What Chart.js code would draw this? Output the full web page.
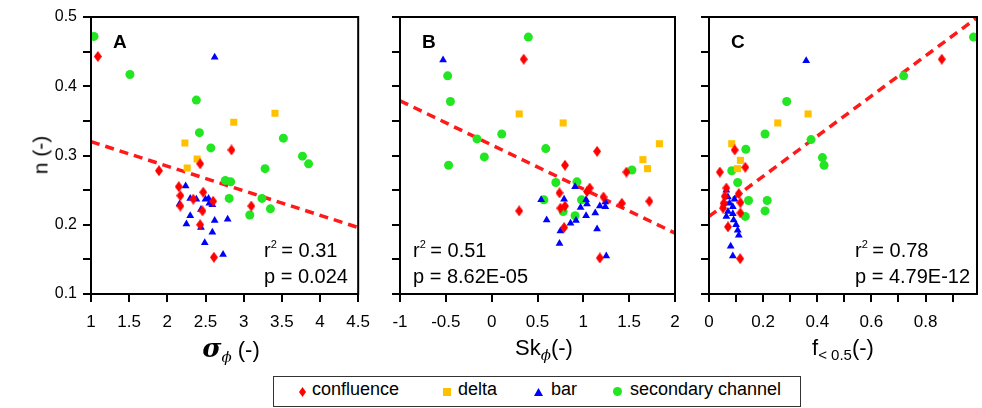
<!DOCTYPE html>
<html>
<head>
<meta charset="utf-8">
<script src="https://cdn.jsdelivr.net/npm/chart.js@4.4.1/dist/chart.umd.min.js"></script>
<style>
body{margin:0;background:#fff;width:982px;height:408px;position:relative;overflow:hidden;font-family:"Liberation Sans",Arial,sans-serif;color:#000;}
canvas{position:absolute;top:0;}
.ttl{position:absolute;top:337px;font-size:22px;line-height:22px;white-space:nowrap;transform:translateX(-50%);}
.ttl sub{font-size:15px;vertical-align:-5px;line-height:0;}
.gk{font-family:"DejaVu Serif","Liberation Serif",serif;font-style:italic;}
.ylab{position:absolute;left:40px;top:155px;font-size:21px;line-height:21px;white-space:nowrap;transform:translate(-50%,-50%) rotate(-90deg);}
#legend{position:absolute;left:273px;top:376px;width:528px;height:31px;border:1px solid #333;box-sizing:border-box;font-size:18px;}
#legend span{position:absolute;top:2px;white-space:nowrap;}
.mk{position:absolute;}
</style>
</head>
<body>
<canvas id="cA" width="380" height="340" style="left:0"></canvas>
<canvas id="cB" width="310" height="340" style="left:380px"></canvas>
<canvas id="cC" width="292" height="340" style="left:690px"></canvas>

<div class="ylab">n (-)</div>
<div class="ttl" style="left:231px"><b class="gk" style="font-size:26px">σ</b><sub class="gk">ϕ</sub> (-)</div>
<div class="ttl" style="left:544px">Sk<sub class="gk">ϕ</sub>(-)</div>
<div class="ttl" style="left:843px">f<sub>&lt; 0.5</sub>(-)</div>

<div id="legend">
  <canvas class="mk" id="mk0" width="8" height="10" style="left:25px;top:10px"></canvas><span style="left:38px">confluence</span>
  <canvas class="mk" id="mk1" width="8" height="8" style="left:169px;top:11px"></canvas><span style="left:184px">delta</span>
  <canvas class="mk" id="mk2" width="9" height="8" style="left:260px;top:11px"></canvas><span style="left:277px">bar</span>
  <canvas class="mk" id="mk3" width="9" height="9" style="left:339px;top:10px"></canvas><span style="left:356px">secondary channel</span>
</div>

<script>
// categories and colours
var categories = ['confluence', 'delta', 'bar', 'secondary channel'];
var colors = ['#ff0000', '#ffc000', '#0000ff', '#22e622'];

// panel A: sigma_phi vs n   [x, n]
var sigmaConfluence = [[1.09,0.443],[2.84,0.308],[2.43,0.288],[1.89,0.278],[2.15,0.255],[2.17,0.242],[2.17,0.227],[2.47,0.247],[2.34,0.237],[2.60,0.234],[2.46,0.220],[3.10,0.227],[2.43,0.200],[2.61,0.153]];
var sigmaDelta = [[3.41,0.361],[2.87,0.348],[2.23,0.318],[2.39,0.295],[2.26,0.282]];
var sigmaBar = [[2.62,0.442],[2.24,0.256],[2.30,0.238],[2.38,0.237],[2.50,0.237],[2.54,0.238],[2.55,0.231],[2.59,0.229],[2.16,0.230],[2.44,0.222],[2.30,0.213],[2.62,0.206],[2.79,0.208],[2.25,0.201],[2.44,0.196],[2.59,0.189],[2.49,0.174],[2.73,0.157]];
var sigmaSecondary = [[1.04,0.472],[1.51,0.417],[2.38,0.380],[2.42,0.333],[2.57,0.311],[3.52,0.325],[3.77,0.299],[3.85,0.288],[3.28,0.281],[2.76,0.264],[2.83,0.262],[2.81,0.238],[3.24,0.238],[3.35,0.223],[3.08,0.214]];
var sigmaFit = [[1,0.320],[4.5,0.196]];

// panel B: Sk_phi vs n
var skConfluence = [[0.35,0.439],[1.15,0.306],[0.80,0.286],[1.47,0.276],[1.07,0.253],[1.04,0.248],[0.74,0.246],[1.22,0.240],[1.42,0.231],[1.72,0.234],[0.80,0.227],[0.75,0.224],[0.30,0.220],[0.79,0.196],[1.18,0.152]];
var skDelta = [[0.30,0.360],[0.78,0.347],[1.83,0.317],[1.65,0.294],[1.70,0.281]];
var skBar = [[-0.53,0.438],[0.91,0.255],[0.54,0.236],[0.79,0.237],[1.03,0.236],[1.04,0.230],[0.97,0.225],[1.18,0.227],[1.24,0.233],[1.24,0.226],[1.13,0.217],[1.03,0.213],[0.60,0.207],[0.92,0.206],[0.86,0.202],[0.75,0.191],[1.15,0.194],[0.74,0.173],[1.25,0.155]];
var skSecondary = [[0.40,0.471],[-0.48,0.415],[-0.45,0.378],[-0.16,0.324],[0.11,0.331],[-0.08,0.298],[-0.47,0.286],[0.59,0.310],[1.53,0.279],[0.70,0.261],[0.93,0.262],[0.57,0.236],[0.98,0.236],[0.78,0.219],[0.91,0.213]];
var skFit = [[-1,0.379],[2,0.188]];

// panel C: f<0.5 vs n
var fConfluence = [[0.86,0.439],[0.095,0.308],[0.134,0.283],[0.040,0.276],[0.064,0.253],[0.058,0.241],[0.054,0.231],[0.052,0.224],[0.110,0.245],[0.116,0.232],[0.116,0.217],[0.070,0.197],[0.115,0.151]];
var fDelta = [[0.366,0.360],[0.254,0.347],[0.084,0.317],[0.116,0.293],[0.105,0.281]];
var fBar = [[0.359,0.437],[0.064,0.250],[0.070,0.240],[0.094,0.237],[0.076,0.231],[0.088,0.226],[0.070,0.219],[0.088,0.216],[0.064,0.212],[0.091,0.207],[0.100,0.200],[0.106,0.192],[0.110,0.185],[0.080,0.169],[0.088,0.155]];
var fSecondary = [[0.977,0.471],[0.719,0.415],[0.287,0.378],[0.207,0.331],[0.377,0.323],[0.136,0.309],[0.419,0.297],[0.425,0.286],[0.084,0.278],[0.106,0.261],[0.146,0.235],[0.215,0.235],[0.207,0.220],[0.134,0.212]];
var fFit = [[0,0.212],[0.99,0.499]];

// stats text
var statsA = ['0.31', '0.024'];
var statsB = ['0.51', '8.62E-05'];
var statsC = ['0.78', '4.79E-12'];

var FONT = '"Liberation Sans", Arial, sans-serif';

function diamond(w, h, color) {
    var c = document.createElement('canvas');
    c.width = w; c.height = h;
    var g = c.getContext('2d');
    g.fillStyle = color;
    g.beginPath();
    g.moveTo(w / 2, 0); g.lineTo(w, h / 2); g.lineTo(w / 2, h); g.lineTo(0, h / 2);
    g.closePath();
    g.fill();
    return c;
}

function pts(arr) {
    return arr.map(function (p) { return {x: p[0], y: p[1]}; });
}

var diamondImg = diamond(8, 11, colors[0]);

function datasets(conf, delta, bar, sec, fit) {
    return [
        {label: categories[0], data: pts(conf), pointStyle: diamondImg, pointRadius: 5, backgroundColor: colors[0], borderWidth: 0},
        {label: categories[1], data: pts(delta), pointStyle: 'rect', pointRadius: 5, backgroundColor: colors[1], borderColor: colors[1], borderWidth: 0},
        {label: categories[2], data: pts(bar), pointStyle: 'triangle', pointRadius: 4.5, backgroundColor: colors[2], borderColor: colors[2], borderWidth: 0},
        {label: categories[3], data: pts(sec), pointStyle: 'circle', pointRadius: 4.5, backgroundColor: colors[3], borderColor: colors[3], borderWidth: 0},
        {label: 'fit', data: pts(fit), showLine: true, pointRadius: 0, borderColor: '#ff1a1a', borderWidth: 3.5, borderDash: [9, 6], fill: false}
    ];
}

var framePlugin = {
    id: 'frame',
    afterDraw: function (chart, args, o) {
        var a = chart.chartArea, ctx = chart.ctx;
        ctx.save();
        ctx.strokeStyle = '#000';
        ctx.lineWidth = 2;
        ctx.strokeRect(a.left, a.top, a.right - a.left, a.bottom - a.top);
        ctx.fillStyle = '#000';
        ctx.textBaseline = 'alphabetic';
        ctx.font = 'bold 19px ' + FONT;
        ctx.fillText(o.letter, a.left + 22, 48);
        var x = a.left + o.statsX;
        ctx.font = '20px ' + FONT;
        ctx.fillText('r', x, 257);
        var w = ctx.measureText('r').width;
        ctx.font = '11px ' + FONT;
        ctx.fillText('2', x + w, 248);
        var w2 = ctx.measureText('2').width;
        ctx.font = '20px ' + FONT;
        ctx.fillText(' = ' + o.stats[0], x + w + w2 - 1, 257);
        ctx.fillText('p = ' + o.stats[1], x, 283);
        ctx.restore();
    }
};

function makeChart(id, sets, xMin, xMax, xStep, xCb, yCb, yWidth, padRight, letter, stats, statsX) {
    return new Chart(document.getElementById(id), {
        type: 'scatter',
        data: {datasets: sets},
        options: {
            responsive: false,
            animation: false,
            devicePixelRatio: 1,
            events: [],
            layout: {padding: {top: 17, right: padRight, left: 0, bottom: 0}},
            plugins: {
                legend: {display: false},
                tooltip: {enabled: false},
                frame: {letter: letter, stats: stats, statsX: statsX}
            },
            scales: {
                x: {
                    type: 'linear', min: xMin, max: xMax,
                    afterFit: function (s) { s.height = 46; },
                    grid: {drawOnChartArea: false, drawTicks: true, tickLength: 8, color: '#000', lineWidth: 2},
                    border: {display: false},
                    ticks: {stepSize: xStep, includeBounds: false, autoSkip: false, maxRotation: 0, padding: 10,
                        color: '#000', font: {family: FONT, size: 17}, callback: xCb}
                },
                y: {
                    type: 'linear', min: 0.1, max: 0.5,
                    afterFit: function (s) { s.width = yWidth; },
                    grid: {drawOnChartArea: false, drawTicks: true, tickLength: 8, color: '#000', lineWidth: 2},
                    border: {display: false},
                    ticks: {stepSize: 0.05, autoSkip: false, padding: 6, color: '#000', font: {family: FONT, size: 16}, callback: yCb}
                }
            }
        },
        plugins: [framePlugin]
    });
}

function halfLabels(v) { return String(Math.round(v * 10) / 10); }
function evenTenths(v) { var k = Math.round(v * 10); return k % 2 === 0 ? String(k / 10) : ''; }
function yLabels(v) { var k = Math.round(v * 100); return k % 10 === 0 ? (k / 100).toFixed(1) : ''; }
function noLabels() { return ''; }

makeChart('cA', datasets(sigmaConfluence, sigmaDelta, sigmaBar, sigmaSecondary, sigmaFit),
    1, 4.5, 0.5, halfLabels, yLabels, 91, 14, 'A', statsA, 173);
makeChart('cB', datasets(skConfluence, skDelta, skBar, skSecondary, skFit),
    -1, 2, 0.5, halfLabels, noLabels, 20, 15, 'B', statsB, 13);
makeChart('cC', datasets(fConfluence, fDelta, fBar, fSecondary, fFit),
    0, 0.99, 0.1, evenTenths, noLabels, 19, 0, 'C', statsC, 146);

// legend markers
(function () {
    var g = document.getElementById('mk0').getContext('2d');
    g.drawImage(diamond(7, 10, colors[0]), 0, 0);
    g = document.getElementById('mk1').getContext('2d');
    g.fillStyle = colors[1]; g.fillRect(0, 0, 8, 8);
    g = document.getElementById('mk2').getContext('2d');
    g.fillStyle = colors[2]; g.beginPath(); g.moveTo(4.5, 0); g.lineTo(9, 8); g.lineTo(0, 8); g.closePath(); g.fill();
    g = document.getElementById('mk3').getContext('2d');
    g.fillStyle = colors[3]; g.beginPath(); g.arc(4.5, 4.5, 4.5, 0, Math.PI * 2); g.fill();
})();
</script>
</body>
</html>
